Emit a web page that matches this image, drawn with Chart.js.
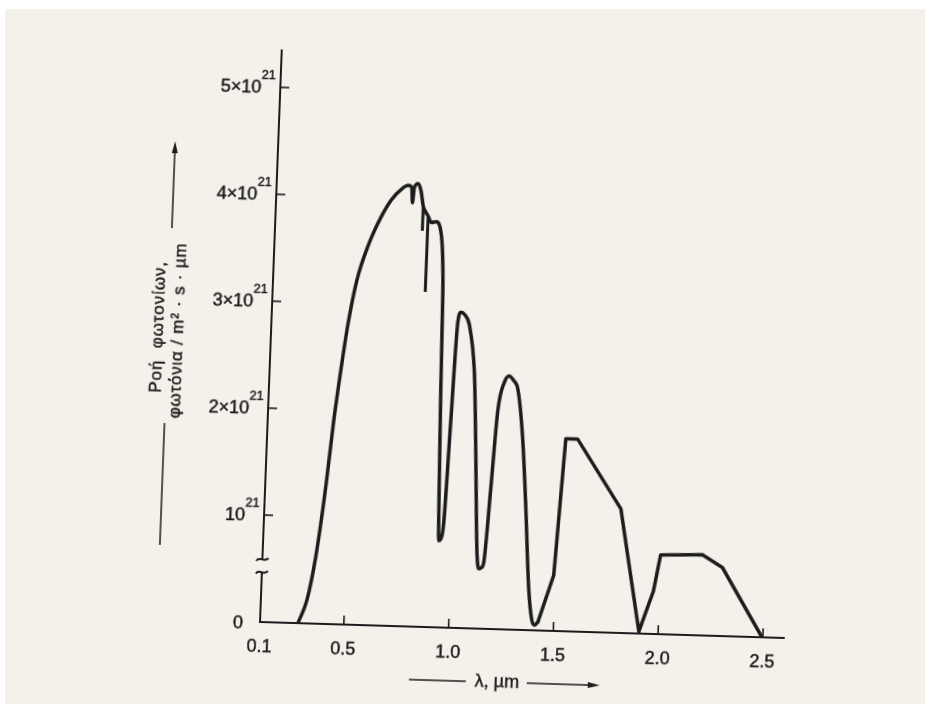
<!DOCTYPE html>
<html lang="el">
<head>
<meta charset="utf-8">
<script src="https://cdn.jsdelivr.net/npm/chart.js@4.4.1/dist/chart.umd.min.js"></script>
<style>
html,body{margin:0;padding:0;width:930px;height:704px;overflow:hidden;background:#ffffff}
#paper{position:absolute;left:5px;top:9px;width:920px;height:695px;background:#f4f1eb}
#wrap{position:absolute;left:0;top:0;width:930px;height:704px;transform-origin:260px 622px;transform:matrix(0.99953,0.0305,-0.038,0.99928,0,0)}
canvas{display:block}
</style>
</head>
<body>
<div id="paper"></div>
<div id="wrap"><canvas id="c" width="930" height="704"></canvas></div>
<script>
// Wavelength (µm) and photon flux (units of 10^21 photons / m²·s·µm)
const lambdaMain = [0.281,0.32,0.355,0.39,0.415,0.44,0.465,0.50,0.55,0.60,0.65,0.70,0.728,0.745,0.751,0.757,0.775,0.79,0.803,0.815,0.828,0.845,0.868,0.895,0.905,0.912,0.92,0.93,0.935,0.938,0.945,0.958,0.973,0.989,1.003,1.02,1.045,1.077,1.099,1.115,1.123,1.133,1.145,1.156,1.176,1.195,1.222,1.244,1.265,1.287,1.319,1.346,1.375,1.395,1.41,1.425];
const fluxMain   = [0,0.22,0.64,1.30,1.90,2.38,2.80,3.22,3.56,3.80,3.98,4.09,4.12,4.10,3.96,4.10,4.14,4.07,3.93,3.88,3.84,3.78,3.79,3.66,3.45,3.13,2.2,1.3,0.9,0.81,0.82,0.98,1.92,2.86,2.95,2.93,2.83,2.39,1.61,0.95,0.68,0.56,0.57,0.62,1.31,2.03,2.31,2.37,2.33,2.25,1.79,1.16,0.39,0.1,0.05,0.08];
const lambdaTail = [1.425,1.492,1.525,1.581,1.80,1.908,1.97,1.998,2.197,2.295,2.496];
const fluxTail   = [0.08,0.52,1.80,1.80,1.16,0.02,0.40,0.74,0.755,0.64,0];
const lambdaLines = [0.803,0.803,0.815,0.828,0.828];
const fluxLines   = [3.93,3.70,null,3.84,3.13];
const xTicks = [0.1,0.5,1.0,1.5,2.0,2.5];
const xTickLabels = ['0.1','0.5','1.0','1.5','2.0','2.5'];
const yTicks = [0,1,2,3,4,5];
const yTickLabels = ['0','10^21','2×10^21','3×10^21','4×10^21','5×10^21'];
const yTitleLines = ['Ροή  φωτονίων,','φωτόνια / m² · s · µm'];
const xTitle = 'λ, µm';

const INK = '#1c1c1c', PAPER = '#f4f1eb';
const FONT = '"Liberation Sans", Arial, sans-serif';

function pts(xs, ys){ return xs.map((x,i)=>({x:x, y:ys[i]})); }

const deco = {
  id:'deco',
  afterDraw(chart){
    const ctx = chart.ctx, xs = chart.scales.x, ys = chart.scales.y, ca = chart.chartArea;
    ctx.save();
    ctx.strokeStyle = INK; ctx.fillStyle = INK; ctx.lineCap = 'butt';
    function seg(x1,y1,x2,y2){ ctx.beginPath(); ctx.moveTo(x1,y1); ctx.lineTo(x2,y2); ctx.stroke(); }
    function txt(s,x,y){ ctx.fillText(s,x,y); ctx.lineWidth = 0.45; ctx.strokeText(s,x,y); }
    // tick marks pointing inward
    ctx.lineWidth = 1.6;
    yTicks.forEach(v=>{ if (v===0) return; const p = ys.getPixelForValue(v); seg(ca.left, p, ca.left+9, p); });
    xTicks.forEach((v,i)=>{ if (i===0) return; const p = xs.getPixelForValue(v); seg(p, ca.bottom, p, ca.bottom-9); });
    // axis break
    const b1 = ys.getPixelForValue(0.585), b2 = ys.getPixelForValue(0.465);
    ctx.fillStyle = PAPER; ctx.fillRect(ca.left-3, b1, 6, b2-b1);
    ctx.fillStyle = INK; ctx.lineWidth = 2;
    [b1,b2].forEach(y=>{ const x = ca.left; ctx.beginPath(); ctx.moveTo(x-6,y+1.5); ctx.bezierCurveTo(x-3,y-4,x+2,y+4,x+6,y-1.5); ctx.stroke(); });
    // y tick labels with superscript exponent
    yTicks.forEach((v,i)=>{
      const p = ys.getPixelForValue(v);
      const parts = yTickLabels[i].split('^');
      ctx.textBaseline = 'alphabetic';
      ctx.textAlign = 'right';
      if (parts.length === 1) {
        ctx.font = '18px ' + FONT;
        txt(parts[0], ca.left-17, p+6.5);
      } else {
        ctx.font = '12.5px ' + FONT;
        const ew = ctx.measureText(parts[1]).width;
        txt(parts[1], ca.left-5, p-8);
        ctx.font = '18px ' + FONT;
        txt(parts[0], ca.left-5-ew, p+6.5);
      }
    });
    // x tick labels
    ctx.font = '18px ' + FONT; ctx.textAlign = 'center'; ctx.textBaseline = 'alphabetic';
    xTicks.forEach((v,i)=>{ txt(xTickLabels[i], xs.getPixelForValue(v), ca.bottom+30); });
    // x title with line and arrow
    const ty = ca.bottom + 53;
    const cx = xs.getPixelForValue(1.24);
    ctx.textBaseline = 'middle';
    txt(xTitle, cx, ty);
    ctx.lineWidth = 1.4;
    seg(cx-88, ty, cx-31, ty);
    seg(cx+30, ty, cx+96, ty);
    ctx.beginPath(); ctx.moveTo(cx+103, ty); ctx.lineTo(cx+91, ty-3); ctx.lineTo(cx+91, ty+3); ctx.closePath(); ctx.fill();
    // y title: two rotated lines, line above with arrow, line below
    const colX = ca.left - 103;
    const lines = [{t:yTitleLines[0], x:colX-10, bottom:396, len:131},{t:yTitleLines[1], x:colX+10, bottom:421, len:175}];
    lines.forEach(L=>{
      ctx.save();
      ctx.translate(L.x, L.bottom); ctx.rotate(-Math.PI/2);
      ctx.font = '17px ' + FONT; ctx.textAlign = 'left'; ctx.textBaseline = 'middle';
      const w = ctx.measureText(L.t).width; const n = Array.from(L.t).length;
      ctx.letterSpacing = Math.max(0, (L.len - w)/(n-1)).toFixed(2) + 'px';
      txt(L.t, 0, 0);
      ctx.restore();
    });
    ctx.lineWidth = 1.5;
    seg(colX, 231, colX, 152);
    ctx.beginPath(); ctx.moveTo(colX, 144); ctx.lineTo(colX-3, 156); ctx.lineTo(colX+3, 156); ctx.closePath(); ctx.fill();
    seg(colX, 426, colX, 548);
    ctx.restore();
  }
};

new Chart(document.getElementById('c'), {
  type: 'line',
  data: { datasets: [
    { data: pts(lambdaMain, fluxMain), borderColor: INK, borderWidth: 3.5, pointRadius: 0, cubicInterpolationMode: 'monotone', fill: false, borderJoinStyle: 'round', borderCapStyle: 'round' },
    { data: pts(lambdaTail, fluxTail), borderColor: INK, borderWidth: 3.5, pointRadius: 0, tension: 0, fill: false, borderJoinStyle: 'round', borderCapStyle: 'round' },
    { data: pts(lambdaLines, fluxLines), borderColor: INK, borderWidth: 3, pointRadius: 0, tension: 0, fill: false, spanGaps: false, borderCapStyle: 'butt' }
  ]},
  options: {
    responsive: false, animation: false, events: [],
    layout: { padding: { left: 0, top: 49.5, right: 146, bottom: 0 } },
    plugins: { legend: { display: false }, tooltip: { enabled: false } },
    scales: {
      x: { type: 'linear', min: 0.1, max: 2.6,
           afterFit(s){ s.height = 82; },
           ticks: { display: false },
           grid: { drawOnChartArea: false, drawTicks: false },
           border: { display: true, color: INK, width: 2 } },
      y: { type: 'linear', min: 0, max: 5.35,
           afterFit(s){ s.width = 260; },
           ticks: { display: false },
           grid: { drawOnChartArea: false, drawTicks: false },
           border: { display: true, color: INK, width: 2 } }
    }
  },
  plugins: [deco]
});
</script>
</body>
</html>
